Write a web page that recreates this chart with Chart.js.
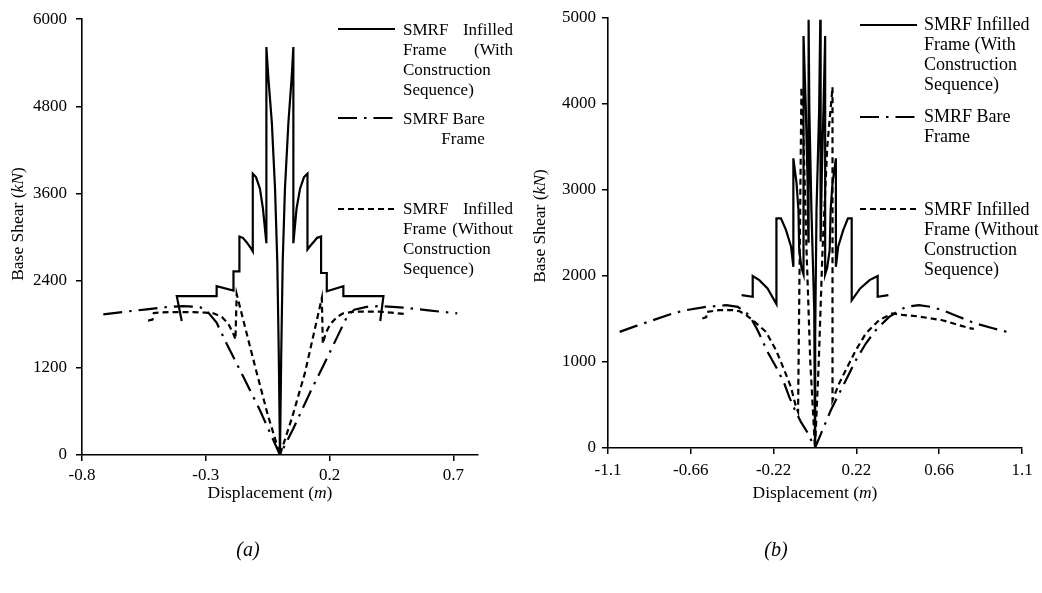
<!DOCTYPE html>
<html>
<head>
<meta charset="utf-8">
<script src="https://cdn.jsdelivr.net/npm/chart.js@4.4.1/dist/chart.umd.min.js"></script>
<style>
  body { margin: 0; background: #fff; }
  #wrap { position: relative; width: 1042px; height: 593px; background: #fff; }
  canvas { position: absolute; top: 0; }
  #chartA { left: 0; }
  #chartB { left: 520px; }
</style>
</head>
<body>
<div id="wrap">
  <canvas id="chartA" width="520" height="593"></canvas>
  <canvas id="chartB" width="522" height="593"></canvas>
</div>
<script>
// Pushover curves, panel (a): displacement (m) vs base shear (kN)
const aWithX = [-0.397, -0.417, -0.256, -0.256, -0.188, -0.188, -0.164, -0.164, -0.150, -0.135, -0.120, -0.110, -0.110, -0.097, -0.081, -0.069, -0.055, -0.055, -0.047, -0.033, -0.020, -0.011, -0.005, 0,
  0.005, 0.011, 0.020, 0.034, 0.047, 0.054, 0.054, 0.067, 0.081, 0.097, 0.111, 0.111, 0.120, 0.135, 0.150, 0.166, 0.166, 0.189, 0.189, 0.256, 0.256, 0.418, 0.405];
const aWithY = [1845, 2187, 2187, 2324, 2265, 2529, 2529, 3007, 2990, 2930, 2860, 2802, 3873, 3827, 3667, 3394, 2916, 5618, 5193, 4580, 3663, 2666, 1400, 0,
  1400, 2666, 3667, 4580, 5193, 5618, 2916, 3394, 3667, 3827, 3873, 2830, 2870, 2930, 2990, 3007, 2506, 2506, 2255, 2324, 2187, 2187, 1845];

const aBareX = [-0.714, -0.62, -0.539, -0.45, -0.39, -0.323, -0.29, -0.256, -0.215, -0.154, -0.081, -0.027, 0,
  0.054, 0.122, 0.175, 0.243, 0.27, 0.30, 0.35, 0.40, 0.50, 0.60, 0.716];
const aBareY = [1937, 1975, 2005, 2040, 2050, 2037, 1960, 1822, 1527, 1117, 615, 205, 0,
  365, 865, 1230, 1709, 1900, 2000, 2040, 2050, 2030, 1990, 1950];

const aWithoutX = [-0.533, -0.515, -0.510, -0.45, -0.35, -0.30, -0.269, -0.235, -0.209, -0.188, -0.180, -0.175, -0.10, -0.05, 0,
  0.05, 0.10, 0.169, 0.173, 0.185, 0.203, 0.23, 0.255, 0.30, 0.40, 0.45, 0.505];
const aWithoutY = [1850, 1865, 1955, 1968, 1968, 1960, 1950, 1900, 1810, 1664, 1590, 2215, 1210, 560, 0,
  530, 1120, 2160, 1531, 1680, 1800, 1900, 1950, 1975, 1975, 1960, 1940];

const aXTicks = [-0.8, -0.3, 0.2, 0.7];
const aXTickLabels = ['-0.8', '-0.3', '0.2', '0.7'];
const aYTicks = [0, 1200, 2400, 3600, 4800, 6000];

// Panel (b)
const bWithX = [-0.39, -0.331, -0.331, -0.296, -0.252, -0.205, -0.205, -0.181, -0.154, -0.127, -0.115, -0.115, -0.098, -0.088, -0.084, -0.072, -0.061, -0.061, -0.0485, -0.040, -0.035, -0.034, -0.030, -0.019, -0.004, 0,
  0.001, 0.008, 0.022, 0.028, 0.030, 0.036, 0.045, 0.054, 0.054, 0.065, 0.078, 0.083, 0.093, 0.111, 0.111, 0.123, 0.150, 0.175, 0.195, 0.195, 0.240, 0.290, 0.333, 0.333, 0.390];
const bWithY = [1777, 1758, 1999, 1952, 1855, 1673, 2670, 2670, 2534, 2340, 2107, 3368, 3077, 2766, 2300, 2100, 2020, 4790, 3930, 3155, 2400, 4980, 3930, 2766, 1600, 0,
  1300, 2766, 3930, 4980, 2400, 3155, 3930, 4790, 2020, 2100, 2300, 2766, 3077, 3368, 2107, 2340, 2534, 2670, 2670, 1717, 1855, 1952, 1999, 1758, 1777];

const bBareX = [-1.038, -0.95, -0.861, -0.75, -0.684, -0.578, -0.472, -0.41, -0.349, -0.305, -0.252, -0.207, -0.163, -0.137, -0.11, -0.075, -0.041, 0,
  0.058, 0.084, 0.119, 0.164, 0.217, 0.27, 0.323, 0.394, 0.482, 0.552, 0.62, 0.676, 0.76, 0.853, 0.95, 1.02];
const bBareY = [1350, 1420, 1486, 1570, 1603, 1641, 1661, 1641, 1545, 1370, 1117, 943, 750, 594, 459, 303, 183, 0,
  303, 439, 594, 788, 1021, 1215, 1370, 1525, 1641, 1661, 1640, 1603, 1530, 1448, 1390, 1350];

const bWithoutX = [-0.599, -0.578, -0.575, -0.509, -0.437, -0.40, -0.366, -0.331, -0.26, -0.207, -0.163, -0.128, -0.101, -0.09, -0.072, -0.06, -0.045, -0.025, 0,
  0.02, 0.04, 0.065, 0.093, 0.093, 0.128, 0.172, 0.217, 0.27, 0.34, 0.411, 0.464, 0.55, 0.676, 0.818, 0.844];
const bWithoutY = [1506, 1520, 1583, 1603, 1603, 1590, 1545, 1486, 1350, 1137, 905, 710, 477, 419, 4195, 3500, 2300, 1000, 0,
  1000, 2300, 3500, 4195, 555, 750, 943, 1137, 1331, 1486, 1564, 1548, 1530, 1486, 1395, 1385];

const bXTicks = [-1.1, -0.66, -0.22, 0.22, 0.66, 1.1];
const bXTickLabels = ['-1.1', '-0.66', '-0.22', '0.22', '0.66', '1.1'];
const bYTicks = [0, 1000, 2000, 3000, 4000, 5000];

const seriesNames = [
  'SMRF Infilled Frame (With Construction Sequence)',
  'SMRF Bare Frame',
  'SMRF Infilled Frame (Without Construction Sequence)'
];

const SERIF = "'Liberation Serif', 'Times New Roman', serif";

function pts(xs, ys) {
  return xs.map((x, i) => ({ x: x, y: ys[i] }));
}

function curve(label, xs, ys, dash) {
  return {
    label: label,
    data: pts(xs, ys),
    showLine: true,
    borderColor: '#000',
    borderWidth: 2.2,
    borderDash: dash,
    pointRadius: 0,
    pointHoverRadius: 0,
    fill: false
  };
}

// draws a line of text made of plain / italic pieces
function drawRuns(ctx, runs, x, y, size, align) {
  const fontOf = r => (r.i ? 'italic ' : '') + size + 'px ' + SERIF;
  let total = 0;
  runs.forEach(r => { ctx.font = fontOf(r); total += ctx.measureText(r.t).width; });
  let cx = align === 'center' ? x - total / 2 : x;
  runs.forEach(r => {
    ctx.font = fontOf(r);
    ctx.textAlign = 'left';
    ctx.fillText(r.t, cx, y);
    cx += ctx.measureText(r.t).width;
  });
}

const paperText = {
  id: 'paperText',
  afterDraw(chart, args, opts) {
    const ctx = chart.ctx;
    ctx.save();
    ctx.fillStyle = '#000';
    ctx.textBaseline = 'middle';

    // legend: line sample followed by hand-broken text
    opts.legend.forEach(entry => {
      const ds = chart.data.datasets[entry.dataset];
      ctx.save();
      ctx.strokeStyle = ds.borderColor;
      ctx.lineWidth = ds.borderWidth;
      ctx.setLineDash(ds.borderDash || []);
      ctx.beginPath();
      ctx.moveTo(entry.x1, entry.y);
      ctx.lineTo(entry.x2, entry.y);
      ctx.stroke();
      ctx.restore();

      ctx.font = opts.legendSize + 'px ' + SERIF;
      ctx.textAlign = 'left';
      entry.lines.forEach(line => {
        if (line.justify) {
          const words = line.t.split(' ');
          const used = words.reduce((s, w) => s + ctx.measureText(w).width, 0);
          const gap = (opts.textWidth - used) / (words.length - 1);
          let cx = opts.textX;
          words.forEach(w => { ctx.fillText(w, cx, line.y); cx += ctx.measureText(w).width + gap; });
        } else if (line.rightOf) {
          const edge = opts.textX + ctx.measureText(line.rightOf).width;
          ctx.fillText(line.t, edge - ctx.measureText(line.t).width, line.y);
        } else {
          ctx.fillText(line.t, opts.textX, line.y);
        }
      });
    });

    // axis titles
    ctx.save();
    ctx.translate(opts.yTitle.x, opts.yTitle.y);
    ctx.rotate(-Math.PI / 2);
    drawRuns(ctx, [{ t: 'Base Shear (' }, { t: 'kN', i: true }, { t: ')' }], 0, 0, opts.titleSize, 'center');
    ctx.restore();
    drawRuns(ctx, [{ t: 'Displacement (' }, { t: 'm', i: true }, { t: ')' }], opts.xTitle.x, opts.xTitle.y, opts.titleSize, 'center');

    // panel tag
    drawRuns(ctx, [{ t: opts.tag.t, i: true }], opts.tag.x, opts.tag.y, 20, 'center');
    ctx.restore();
  }
};

function makePanel(canvasId, cfg) {
  return new Chart(document.getElementById(canvasId), {
    type: 'scatter',
    data: {
      datasets: [
        curve(seriesNames[0], cfg.withX, cfg.withY, []),
        curve(seriesNames[1], cfg.bareX, cfg.bareY, [19, 7, 2.5, 7]),
        curve(seriesNames[2], cfg.withoutX, cfg.withoutY, [6, 4])
      ]
    },
    options: {
      responsive: false,
      animation: false,
      events: [],
      layout: { padding: cfg.padding },
      scales: {
        x: {
          type: 'linear',
          min: cfg.xTicks[0] < -1 ? -1.1 : -0.8,
          max: cfg.xMax,
          afterBuildTicks: s => { s.ticks = cfg.xTicks.map(v => ({ value: v })); },
          afterFit: s => { s.height = cfg.xHeight; },
          ticks: {
            autoSkip: false,
            maxRotation: 0,
            padding: cfg.xPad,
            color: '#000',
            font: { family: SERIF, size: 17 },
            callback: (v, i) => cfg.xLabels[i]
          },
          grid: { display: true, drawOnChartArea: false, drawTicks: true, tickLength: 6, color: '#000', lineWidth: 1.5 },
          border: { display: true, color: '#000', width: 1.6 }
        },
        y: {
          type: 'linear',
          min: 0,
          max: cfg.yTicks[cfg.yTicks.length - 1],
          afterBuildTicks: s => { s.ticks = cfg.yTicks.map(v => ({ value: v })); },
          afterFit: s => { s.width = cfg.yWidth; },
          ticks: {
            padding: cfg.yPad,
            color: '#000',
            font: { family: SERIF, size: 17 },
            callback: v => String(v)
          },
          grid: { display: true, drawOnChartArea: false, drawTicks: true, tickLength: 6, color: '#000', lineWidth: 1.5 },
          border: { display: true, color: '#000', width: 1.6 }
        }
      },
      plugins: {
        legend: { display: false },
        tooltip: { enabled: false },
        paperText: cfg.text
      }
    },
    plugins: [paperText]
  });
}

makePanel('chartA', {
  withX: aWithX, withY: aWithY, bareX: aBareX, bareY: aBareY, withoutX: aWithoutX, withoutY: aWithoutY,
  xTicks: aXTicks, xLabels: aXTickLabels, yTicks: aYTicks, xMax: 0.8,
  padding: { left: 0, top: 16, right: 42, bottom: 0 },
  yWidth: 82, xHeight: 138, xPad: 4, yPad: 9,
  text: {
    legendSize: 17, textX: 403, textWidth: 110, titleSize: 17.5,
    legend: [
      { dataset: 0, x1: 338, x2: 395, y: 29, lines: [
        { t: 'SMRF Infilled', y: 31, justify: true },
        { t: 'Frame (With', y: 51, justify: true },
        { t: 'Construction', y: 71 },
        { t: 'Sequence)', y: 91 }] },
      { dataset: 1, x1: 338, x2: 395, y: 118, lines: [
        { t: 'SMRF Bare', y: 120 },
        { t: 'Frame', y: 140, rightOf: 'SMRF Bare' }] },
      { dataset: 2, x1: 338, x2: 395, y: 209, lines: [
        { t: 'SMRF Infilled', y: 210, justify: true },
        { t: 'Frame (Without', y: 230, justify: true },
        { t: 'Construction', y: 250 },
        { t: 'Sequence)', y: 270 }] }
    ],
    yTitle: { x: 18, y: 224 },
    xTitle: { x: 270, y: 493 },
    tag: { t: '(a)', x: 248, y: 551 }
  }
});

makePanel('chartB', {
  withX: bWithX, withY: bWithY, bareX: bBareX, bareY: bBareY, withoutX: bWithoutX, withoutY: bWithoutY,
  xTicks: bXTicks, xLabels: bXTickLabels, yTicks: bYTicks, xMax: 1.1,
  padding: { left: 0, top: 18, right: 20, bottom: 0 },
  yWidth: 88, xHeight: 145, xPad: 6, yPad: 6,
  text: {
    legendSize: 18, textX: 404, textWidth: 110, titleSize: 17.5,
    legend: [
      { dataset: 0, x1: 340, x2: 397, y: 25, lines: [
        { t: 'SMRF Infilled', y: 25 },
        { t: 'Frame (With', y: 45 },
        { t: 'Construction', y: 65 },
        { t: 'Sequence)', y: 85 }] },
      { dataset: 1, x1: 340, x2: 397, y: 117, lines: [
        { t: 'SMRF Bare', y: 117 },
        { t: 'Frame', y: 137 }] },
      { dataset: 2, x1: 340, x2: 397, y: 209, lines: [
        { t: 'SMRF Infilled', y: 210 },
        { t: 'Frame (Without', y: 230 },
        { t: 'Construction', y: 250 },
        { t: 'Sequence)', y: 270 }] }
    ],
    yTitle: { x: 20, y: 226 },
    xTitle: { x: 295, y: 493 },
    tag: { t: '(b)', x: 256, y: 551 }
  }
});
</script>
</body>
</html>
